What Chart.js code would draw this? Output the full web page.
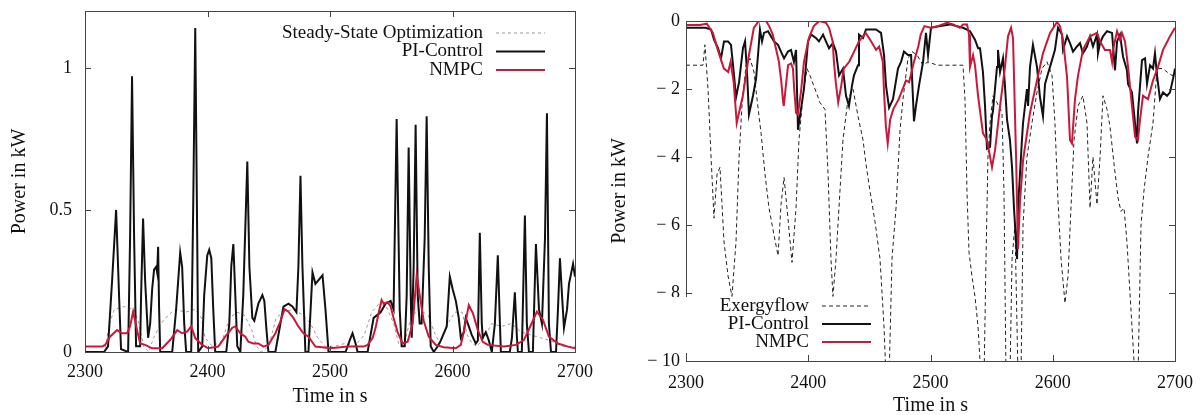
<!DOCTYPE html>
<html>
<head>
<meta charset="utf-8">
<script src="https://cdn.jsdelivr.net/npm/chart.js@4.4.0/dist/chart.umd.min.js"></script>
<style>
  html, body { margin: 0; padding: 0; background: #fff; }
  #wrap { position: relative; width: 1203px; height: 415px; overflow: hidden; }
  canvas { position: absolute; top: 0; }
  #left { left: 0; }
  #right { left: 600px; }
</style>
</head>
<body>
<div id="wrap">
  <canvas id="left" width="600" height="415"></canvas>
  <canvas id="right" width="603" height="415"></canvas>
</div>
<script>
// ---- tick values / labels ----
const timeTicks = [2300, 2400, 2500, 2600, 2700];
const leftYTicks = [0, 0.5, 1];
const rightYTicks = [0, -2, -4, -6, -8, -10];
const rightYTickLabels = ['0', '\u2212 2', '\u2212 4', '\u2212 6', '\u2212 8', '\u2212 10'];

// ---- left chart: [time s, power kW] ----
const steadyStateLeft = [[2300,0],[2316,0],[2320,0.1],[2324,0.15],[2332,0.16],[2340,0.15],[2344,0.1],[2348,0.02],[2352,0],
  [2356,0.05],[2362,0.1],[2368,0.13],[2374,0.15],[2382,0.14],[2390,0.15],[2395,0.12],[2398,0.05],[2404,0.02],[2412,0.04],
  [2418,0.12],[2424,0.14],[2430,0.13],[2436,0.08],[2440,0.02],[2444,0],[2450,0.02],[2456,0.12],[2462,0.14],[2470,0.15],
  [2478,0.13],[2484,0.1],[2490,0.05],[2496,0.02],[2504,0.02],[2512,0.03],[2520,0.02],[2528,0.06],[2534,0.14],[2540,0.17],
  [2546,0.16],[2552,0.1],[2556,0.03],[2560,0.02],[2566,0.12],[2572,0.15],[2580,0.13],[2586,0.06],[2590,0.03],[2596,0.1],
  [2602,0.14],[2608,0.14],[2612,0.06],[2616,0.03],[2620,0.02],[2626,0.05],[2632,0.1],[2640,0.09],[2648,0.1],[2656,0.07],
  [2664,0.06],[2672,0.05],[2680,0.04],[2690,0.02],[2700,0.02]];

const piControlLeft = [[2300,0],[2315.5,0],[2318.8,0.02],[2322.1,0.25],[2325.4,0.5],[2327.8,0.2],[2329.4,0.01],[2335.2,0],
  [2336.8,0.4],[2338.4,0.97],[2340.1,0.4],[2341.7,0.02],[2345,0.02],[2345.8,0.2],[2347.4,0.47],[2349.1,0.25],[2351.5,0.05],
  [2353.2,0.1],[2354.8,0.22],[2356.4,0.29],[2358.1,0.3],[2358.9,0.28],[2359.7,0.37],[2360.5,0.15],[2361.4,0],[2371.2,0],
  [2374.4,0.15],[2377.7,0.35],[2379.3,0.3],[2381,0.1],[2382.6,0],[2386.7,0],[2388.3,0.5],[2390,1.14],[2391.6,0.4],[2392.4,0],
  [2395.7,0.02],[2397.3,0.2],[2399.8,0.34],[2401.4,0.36],[2403.1,0.33],[2404.7,0.15],[2406.3,0],[2415.3,0],[2417.8,0.1],
  [2419.4,0.3],[2421.1,0.38],[2422.7,0.2],[2424.3,0.02],[2426.8,0],[2429.2,0.2],[2432.5,0.67],[2434.2,0.3],[2436.6,0.12],
  [2438.2,0.11],[2441.5,0.17],[2444.8,0.2],[2446.4,0.18],[2448.1,0.08],[2449.7,0],[2455.4,0],[2458.7,0.08],[2462,0.16],
  [2466.1,0.17],[2469.3,0.16],[2472.6,0.14],[2474.2,0.3],[2475.9,0.62],[2477.5,0.3],[2479.9,0],[2482.4,0],[2485.7,0.28],
  [2488.1,0.24],[2493.9,0.27],[2496.3,0.15],[2498.8,0],[2512.7,0],[2516,0.04],[2518.4,0.066],[2520.9,0.03],[2522.5,0],
  [2530.7,0],[2535.6,0.12],[2541.3,0.14],[2545.4,0.17],[2549.5,0.18],[2551.9,0.15],[2554.4,0.82],[2556.9,0.15],[2558.5,0.02],
  [2561,0.02],[2562.6,0.2],[2564.2,0.72],[2565.9,0.2],[2566.7,0.05],[2568.3,0.3],[2569.9,0.8],[2571.6,0.2],[2573.2,0.1],
  [2574.8,0.1],[2577.3,0.4],[2578.9,0.83],[2580.6,0.3],[2582.2,0.02],[2584.7,0],[2587.9,0.02],[2590.4,0.04],[2595.3,0.09],
  [2597.8,0.265],[2600.2,0.22],[2602.7,0.18],[2605.1,0.12],[2606.8,0.05],[2609.2,0.07],[2610.8,0.12],[2613.3,0.09],
  [2615.7,0.06],[2619,0.03],[2620.7,0.04],[2622.3,0.42],[2623.9,0.1],[2624.7,0.05],[2627.2,0.07],[2629.7,0.04],[2632.1,0],
  [2634.6,0.1],[2637,0.34],[2638.7,0.1],[2639.5,0],[2646.8,0],[2648.5,0.05],[2650.9,0.21],[2652.6,0.05],[2653.4,0],
  [2656.6,0],[2659.1,0.48],[2660.7,0.1],[2662.4,0],[2665.6,0],[2668.1,0.38],[2670.6,0.15],[2673,0.1],[2675.5,0.4],
  [2677.1,0.84],[2678.7,0.1],[2680.4,0],[2684.5,0],[2686.1,0.15],[2687.7,0.33],[2689.4,0.2],[2691,0.085],[2693.5,0.15],
  [2695.1,0.24],[2698.4,0.31],[2700,0.265]];

const nmpcLeft = [[2300,0.019],[2313.9,0.019],[2316.4,0.025],[2320.4,0.054],[2326.2,0.077],[2330.3,0.066],[2334.4,0.066],
  [2336.8,0.09],[2339.3,0.142],[2342.5,0.077],[2345,0.03],[2349.1,0.025],[2354.8,0.013],[2363,0.013],[2369.5,0.042],
  [2375.3,0.077],[2379.3,0.066],[2383.4,0.072],[2386.7,0.09],[2390,0.049],[2395.7,0.025],[2400.6,0.013],[2408.8,0.019],
  [2414.5,0.054],[2420.2,0.085],[2422.7,0.09],[2426.8,0.066],[2430.9,0.054],[2433.3,0.036],[2437.4,0.03],[2441.5,0.03],
  [2445.6,0.019],[2449.7,0.025],[2455.4,0.066],[2459.5,0.107],[2462.8,0.151],[2466.1,0.142],[2470.1,0.12],[2474.2,0.09],
  [2478.3,0.066],[2482.4,0.054],[2488.1,0.019],[2500.4,0.013],[2514.3,0.019],[2527.4,0.019],[2530.7,0.025],[2534.8,0.049],
  [2537.2,0.085],[2539.7,0.137],[2542.1,0.183],[2543.8,0.17],[2547,0.176],[2549.5,0.16],[2551.9,0.12],[2555.2,0.07],
  [2559.3,0.03],[2563.4,0.036],[2567.5,0.1],[2570.8,0.271],[2573.2,0.2],[2576.5,0.11],[2580.6,0.054],[2586.3,0.025],
  [2592.8,0.017],[2602.7,0.013],[2606.8,0.025],[2609.2,0.07],[2613.3,0.165],[2616.6,0.137],[2620.7,0.077],[2624.7,0.036],
  [2628.8,0.025],[2641.9,0.019],[2651.7,0.025],[2658.3,0.042],[2664,0.095],[2668.9,0.142],[2673.8,0.114],[2678.7,0.054],
  [2686.1,0.03],[2694.3,0.019],[2700,0.013]];

// ---- right chart: [time s, power kW] ----
const exergyRight = [[2300,-1.3],[2313.9,-1.3],[2315.5,-0.7],[2318,-2],[2320.5,-4],[2322.9,-5.8],[2325.4,-4.5],[2327.8,-4.3],
  [2331.1,-6.5],[2334.4,-7.5],[2337.6,-8.1],[2340.9,-6.5],[2343.4,-4],[2345.8,-2.5],[2349.1,-1.3],[2352.4,-1.1],[2355.6,-1.5],
  [2358.1,-2.3],[2361.4,-3.3],[2364.6,-4.5],[2367.9,-5.5],[2372,-6.3],[2375.3,-6.9],[2377.7,-5.4],[2380.2,-4.6],[2383.4,-5.8],
  [2386.7,-7.1],[2390,-5.5],[2392.4,-3.5],[2395.7,-2.2],[2399,-1.4],[2401.4,-1.6],[2405.5,-2],[2409.6,-2.4],[2413.7,-2.6],
  [2416.2,-4.5],[2418.6,-7],[2420.2,-8.1],[2422.7,-7],[2424.3,-6],[2428.4,-3.5],[2432.5,-2.3],[2436.6,-2],[2440.7,-2.8],
  [2444.8,-3.5],[2447.2,-4.2],[2450.5,-5],[2454.6,-5.9],[2458.7,-7],[2462,-9],[2463.6,-10.5],[2466.1,-10.5],[2468.5,-7],
  [2471.8,-5.5],[2475.1,-3.2],[2477.5,-2.3],[2481.6,-1.1],[2484.9,-0.9],[2489,-1],[2493.9,-1.3],[2498,-1.2],[2505.3,-1.3],
  [2526.6,-1.3],[2528.2,-2.3],[2529.9,-5.1],[2531.5,-6.8],[2533.9,-7.5],[2536.4,-8.1],[2538.9,-9],[2541.3,-10.5],
  [2543.8,-10.5],[2545.4,-7],[2547,-4],[2548.7,-3],[2551.1,-2.2],[2554.4,-2.4],[2558.5,-2.7],[2560.1,-5],[2561.8,-10.5],
  [2565,-10.5],[2566.7,-7],[2569.1,-6],[2571.6,-10.5],[2574,-10.5],[2575.7,-6],[2578.9,-4],[2583,-3],[2587.1,-2.1],
  [2591.2,-1.4],[2595.3,-1.2],[2599.4,-1.6],[2601.8,-3],[2604.3,-5.3],[2606.8,-7],[2610,-8.3],[2612.5,-7.5],[2614.9,-5.5],
  [2617.4,-3.5],[2620.7,-2.5],[2624.7,-2.2],[2628,-3],[2630.5,-5.5],[2632.9,-4],[2636.2,-5.4],[2638.7,-4],[2641.1,-2.2],
  [2644.4,-2.6],[2646.8,-3.1],[2650.1,-4.2],[2653.4,-5.2],[2655.8,-5.6],[2658.3,-5.5],[2660.7,-6.5],[2664,-8.5],
  [2667.3,-10.5],[2669.7,-10.5],[2672.2,-6],[2674.6,-5],[2677.9,-4],[2682,-3],[2685.3,-1.4],[2690.2,-1.4],[2693.5,-1.5],
  [2697.5,-1.6],[2700,-1.6]];

const piControlRight = [[2300,-0.2],[2316,-0.2],[2320.5,-0.25],[2322.9,-0.55],[2326.2,-0.8],[2328.6,-1.1],[2331.1,-0.6],
  [2334.4,-0.6],[2336.8,-0.7],[2339.3,-1.6],[2340.9,-2.25],[2343.4,-1.8],[2346.6,-0.8],[2348.3,-0.6],[2349.9,-1.5],
  [2351.5,-2.75],[2354.8,-2.2],[2357.3,-1.7],[2358.9,-1],[2360.5,-0.25],[2362.2,-0.6],[2363.8,-0.35],[2367.1,-0.3],
  [2369.5,-0.45],[2372,-0.6],[2375.3,-0.7],[2377.7,-0.9],[2380.2,-1.1],[2383.4,-0.9],[2385.9,-0.85],[2388.3,-1.2],
  [2390,-0.85],[2391.6,-3.2],[2396.5,-2],[2399.8,-0.6],[2402.3,-0.4],[2406.3,-0.5],[2408.8,-0.6],[2412.1,-0.4],
  [2414.5,-0.6],[2417,-0.8],[2420.2,-0.65],[2422.7,-0.9],[2425.2,-1.6],[2428.4,-1.4],[2430.9,-2.2],[2433.3,-2.5],
  [2435.8,-1.9],[2437.4,-1.6],[2440.7,-1.3],[2441.5,-0.4],[2444.8,-0.5],[2447.2,-0.25],[2451.3,-0.25],[2455.4,-0.25],
  [2459.5,-0.35],[2462,-1],[2463.6,-1.9],[2466.1,-2.55],[2469.3,-2.3],[2473.4,-1.4],[2475.9,-1.2],[2478.3,-0.9],
  [2481.6,-1],[2484.1,-1],[2486.5,-2.95],[2488.1,-2.5],[2490.6,-1.9],[2493.9,-1.2],[2496.3,-0.35],[2498,-1],[2500.4,-0.2],
  [2507.8,-0.15],[2516,-0.1],[2526.6,-0.2],[2532.3,-0.3],[2536.4,-0.55],[2538.9,-0.8],[2540.5,-0.8],[2542.9,-1.5],
  [2544.6,-2.5],[2546.2,-3.75],[2548.7,-3.7],[2550.3,-2.8],[2551.1,-2.65],[2554.4,-1.35],[2555.2,-0.85],[2556.9,-1.5],
  [2559.3,-1.1],[2560.9,-1.9],[2562.6,-2.9],[2565,-3.5],[2566.7,-4.3],[2568.3,-5.5],[2570.8,-7],[2571.6,-5.5],[2574.8,-3.5],
  [2575.7,-3],[2578.9,-2],[2579.8,-2.5],[2581.4,-1.35],[2583.8,-0.7],[2587.1,-1.35],[2589.6,-2.25],[2592,-2.8],
  [2593.7,-1.85],[2596.1,-1.55],[2599.4,-1.15],[2601.8,-0.85],[2604.3,-0.2],[2607.6,-0.4],[2608.4,-0.85],[2611.7,-0.45],
  [2614.1,-0.65],[2616.6,-0.9],[2619.8,-0.75],[2622.3,-0.65],[2624.7,-0.95],[2628,-0.75],[2630.5,-0.45],[2632.9,-0.75],
  [2636.2,-0.4],[2637,-0.95],[2638.7,-0.65],[2641.1,-0.45],[2644.4,-0.3],[2648.5,-0.35],[2650.9,-1.45],[2652.6,-0.6],
  [2655,-0.4],[2657.5,-1.05],[2660.7,-1.45],[2661.6,-1.85],[2664.8,-2.1],[2667.3,-3],[2668.9,-3.6],[2669.7,-2.7],
  [2673,-1.15],[2675.5,-1.1],[2677.1,-1.85],[2679.6,-1.3],[2682,-1.4],[2683.6,-0.95],[2685.3,-1.6],[2687.7,-2.3],
  [2690.2,-2.1],[2693.5,-2.2],[2695.9,-2.1],[2698.4,-1.7],[2700,-1.4]];

const nmpcRight = [[2300,-0.12],[2311.5,-0.12],[2317,-0.08],[2322,-0.35],[2326,-0.85],[2331,-1.4],[2334.5,-1.5],
  [2336.5,-1.2],[2339,-1.8],[2341.5,-3],[2346.5,-2.2],[2351.5,-1],[2355.5,-0.2],[2359.5,0],[2365.5,0],[2368,-0.15],
  [2371,-0.4],[2373.5,-0.8],[2376,-1.2],[2378,-1.8],[2379.5,-2.4],[2380,-2.5],[2382,-1.8],[2383.5,-1.3],[2386,-1.25],
  [2387.5,-1.4],[2388.5,-2],[2390,-2.7],[2391.5,-2.75],[2394,-2.1],[2396.5,-1.2],[2400.5,-0.5],[2404.5,-0.15],[2409,0],
  [2414.5,-0.05],[2417,-0.2],[2420,-0.6],[2421,-1.2],[2422.5,-1.8],[2424.5,-2.4],[2427,-1.9],[2429,-1.4],[2433.5,-1.2],
  [2437.5,-0.9],[2441.5,-0.6],[2447,-0.35],[2451.5,-0.6],[2455.5,-0.85],[2458,-0.75],[2461,-1.2],[2462,-2.1],[2463.5,-3.1],
  [2465,-3.6],[2467,-2.9],[2469.5,-2.6],[2474,-2.3],[2480,-1.75],[2482.5,-1.8],[2486.5,-1.2],[2490,-0.75],[2492,-0.4],
  [2495,-0.15],[2500,-0.2],[2506,-0.15],[2513.5,-0.05],[2518.5,-0.1],[2524,-0.2],[2526.6,-0.1],[2529.9,-0.1],
  [2531.5,-0.4],[2532.3,-1.35],[2534.8,-1],[2536.4,-1.3],[2538.9,-2.2],[2542.9,-3.3],[2546.2,-3.5],[2550.3,-4.3],
  [2552.8,-3.8],[2556.9,-2.5],[2560.9,-1.35],[2563.4,-0.45],[2565.9,-0.2],[2567.5,-0.5],[2570,-4],[2571.6,-6.7],
  [2573.2,-5.3],[2575.7,-4.1],[2581.4,-2.7],[2587.1,-1.75],[2592,-0.95],[2597.8,-0.35],[2603.5,-0.03],[2605.9,-0.15],
  [2608.4,-0.55],[2611.7,-1.65],[2614.1,-3.5],[2615.7,-3.6],[2618.2,-2.3],[2620.7,-1.6],[2624.7,-0.85],[2630.5,-0.45],
  [2636.2,-0.35],[2638.7,-0.6],[2642.7,-0.85],[2646.8,-0.85],[2648.5,-1.2],[2649.3,-0.85],[2652.6,-0.3],[2655,-0.55],
  [2656.6,-0.35],[2659.1,-0.6],[2661.6,-1.35],[2664.8,-2.5],[2667.3,-3.4],[2669.7,-3.5],[2671.4,-2.9],[2673.8,-2.2],
  [2677.9,-2.3],[2682,-1.75],[2686.1,-1.35],[2690.2,-0.85],[2695.9,-0.45],[2700,-0.2]];

const FONT = '"Liberation Serif", "Times New Roman", serif';
const RED = '#c8193c';
const INK = '#111';

function series(label, pairs, color, width, dash, order) {
  return {
    label: label,
    data: pairs.map(p => ({ x: p[0], y: p[1] })),
    borderColor: color,
    borderWidth: width,
    borderDash: dash,
    pointRadius: 0,
    tension: 0,
    fill: false,
    order: order
  };
}

// box around the plot with inward ticks on all four sides
const frameTicks = {
  id: 'frameTicks',
  afterDatasetsDraw(chart) {
    const { ctx, chartArea: a, scales } = chart;
    const x = scales.x, y = scales.y;
    ctx.save();
    ctx.strokeStyle = '#444';
    ctx.lineWidth = 1;
    ctx.strokeRect(Math.round(a.left) + 0.5, Math.round(a.top) + 0.5, Math.round(a.width), Math.round(a.height));
    ctx.beginPath();
    x.ticks.forEach(t => {
      const px = Math.round(x.getPixelForValue(t.value)) + 0.5;
      ctx.moveTo(px, a.bottom); ctx.lineTo(px, a.bottom - 6);
      ctx.moveTo(px, a.top); ctx.lineTo(px, a.top + 6);
    });
    y.ticks.forEach(t => {
      const py = Math.round(y.getPixelForValue(t.value)) + 0.5;
      ctx.moveTo(a.left, py); ctx.lineTo(a.left + 6, py);
      ctx.moveTo(a.right, py); ctx.lineTo(a.right - 6, py);
    });
    ctx.stroke();
    ctx.restore();
  }
};

// gnuplot-style key: right-aligned text, line sample on the right
const insideLegend = {
  id: 'insideLegend',
  afterDraw(chart, args, opts) {
    const ctx = chart.ctx;
    const n = chart.data.datasets.length;
    ctx.save();
    if (opts.opaque) {
      ctx.fillStyle = '#fff';
      ctx.fillRect(opts.x - 145, opts.y - opts.row / 2, 215, opts.row * n + 2);
    }
    ctx.font = '19px ' + FONT;
    ctx.textAlign = 'right';
    ctx.textBaseline = 'middle';
    chart.data.datasets.forEach((ds, i) => {
      const yy = opts.y + i * opts.row;
      ctx.fillStyle = INK;
      ctx.fillText(ds.label, opts.x, yy);
      ctx.strokeStyle = ds.borderColor;
      ctx.lineWidth = ds.borderWidth;
      ctx.setLineDash(ds.borderDash || []);
      ctx.beginPath();
      ctx.moveTo(opts.x + 13, yy);
      ctx.lineTo(opts.x + 62, yy);
      ctx.stroke();
    });
    ctx.restore();
  }
};

function makeChart(id, datasets, o) {
  return new Chart(document.getElementById(id), {
    type: 'line',
    data: { datasets: datasets },
    plugins: [frameTicks, insideLegend],
    options: {
      responsive: false,
      animation: false,
      layout: { padding: { left: 0, right: o.padRight, top: o.padTop, bottom: 0 } },
      plugins: {
        legend: { display: false },
        tooltip: { enabled: false },
        insideLegend: o.legend
      },
      scales: {
        x: {
          type: 'linear', min: 2300, max: 2700,
          afterBuildTicks: s => { s.ticks = timeTicks.map(v => ({ value: v })); },
          afterFit: s => { s.height = o.xHeight; s.paddingLeft = 0; s.paddingRight = 0; },
          grid: { display: false, drawTicks: false },
          border: { display: false },
          ticks: { autoSkip: false, maxRotation: 0, padding: o.xTickPad, color: INK,
                   font: { family: FONT, size: 18 }, callback: v => String(v) },
          title: { display: true, text: 'Time in s', color: INK, font: { family: FONT, size: 20 },
                   padding: { top: 0, bottom: o.xTitlePad } }
        },
        y: {
          type: 'linear', min: o.yMin, max: o.yMax,
          afterBuildTicks: s => { s.ticks = o.yTicks.map(v => ({ value: v })); },
          afterFit: s => { s.width = o.yWidth; s.paddingTop = 0; s.paddingBottom = 0; },
          grid: { display: false, drawTicks: false },
          border: { display: false },
          ticks: { autoSkip: false, padding: o.yTickPad, color: INK,
                   font: { family: FONT, size: 18 }, callback: o.yLabel },
          title: { display: true, text: 'Power in kW', color: INK, font: { family: FONT, size: 20 },
                   padding: { top: 8, bottom: 0 } }
        }
      }
    }
  });
}

makeChart('left', [
  series('Steady-State Optimization', steadyStateLeft, '#9a9a9a', 1, [3, 3], 2),
  series('PI-Control', piControlLeft, INK, 2, [], 1),
  series('NMPC', nmpcLeft, RED, 2, [], 0)
], {
  padRight: 25, padTop: 11, xHeight: 63, xTickPad: 9, xTitlePad: 6,
  yMin: 0, yMax: 1.2, yTicks: leftYTicks, yWidth: 85, yTickPad: 13,
  yLabel: v => String(v),
  legend: { x: 483, y: 33, row: 18.5, opaque: false }
});

makeChart('right', [
  series('Exergyflow', exergyRight, '#222', 1, [4, 3], 2),
  series('PI-Control', piControlRight, INK, 2, [], 1),
  series('NMPC', nmpcRight, RED, 2, [], 0)
], {
  padRight: 28, padTop: 21, xHeight: 54, xTickPad: 11, xTitlePad: -3,
  yMin: -10, yMax: 0, yTicks: rightYTicks, yWidth: 86, yTickPad: 6,
  yLabel: (v, i) => rightYTickLabels[i],
  legend: { x: 209, y: 306, row: 18, opaque: true }
});
</script>
</body>
</html>
